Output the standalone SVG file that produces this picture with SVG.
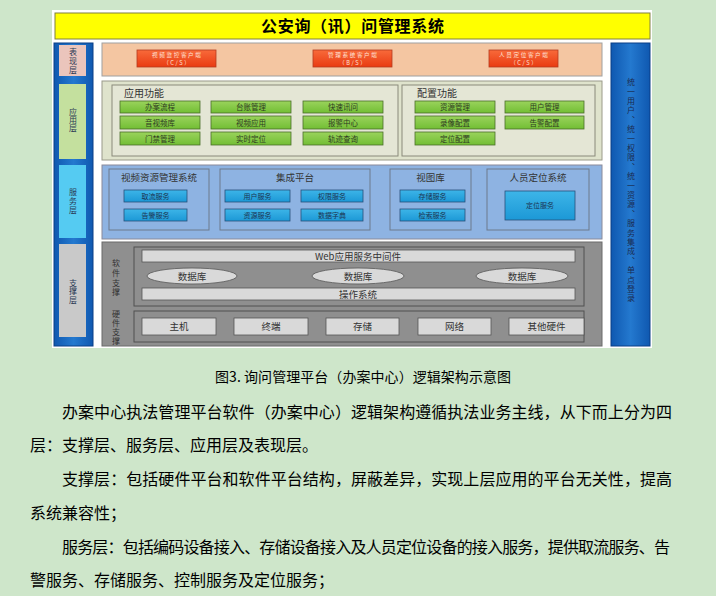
<svg xmlns="http://www.w3.org/2000/svg" width="716" height="596" viewBox="0 0 716 596">
<defs>
<linearGradient id="gBlue" x1="0" y1="0" x2="1" y2="0"><stop offset="0" stop-color="#0F58B0"/><stop offset="0.5" stop-color="#2479CF"/><stop offset="1" stop-color="#0F58B0"/></linearGradient>
<linearGradient id="gRed" x1="0" y1="0" x2="0" y2="1"><stop offset="0" stop-color="#F86A3A"/><stop offset="1" stop-color="#E93B12"/></linearGradient>
<linearGradient id="gGreen" x1="0" y1="0" x2="0" y2="1"><stop offset="0" stop-color="#9AD35C"/><stop offset="1" stop-color="#72BE34"/></linearGradient>
<linearGradient id="gCyan" x1="0" y1="0" x2="0" y2="1"><stop offset="0" stop-color="#3DB5E8"/><stop offset="1" stop-color="#1C98D6"/></linearGradient>
</defs>
<style>
text{font-family:"Noto Sans CJK SC","Liberation Sans",sans-serif}
.vt{font-size:8px;fill:#2B3A55;writing-mode:vertical-rl;text-anchor:middle}
.red{fill:url(#gRed);stroke:#B43A1E;stroke-width:0.8}
.redt{font-size:5.6px;fill:#FFE3D6;text-anchor:middle;letter-spacing:1.6px}
.grn{fill:url(#gGreen);stroke:#4A6E2A;stroke-width:0.8}
.grnt{font-size:7.5px;fill:#2F3B22;text-anchor:middle}
.cyn{fill:url(#gCyan);stroke:#28507A;stroke-width:0.8}
.cynt{font-size:7px;fill:#1C3552;text-anchor:middle}
.sub{font-size:9.5px;fill:#333;text-anchor:middle}
.hw{fill:#D9D9D9;stroke:#555;stroke-width:0.8}
.hwt{font-size:9.5px;fill:#333;text-anchor:middle}
.para{font-size:16px;fill:#000}
</style>
<rect x="0" y="0" width="716" height="596" fill="#CEE6CA"/>
<rect x="52" y="10" width="600" height="338" fill="#FFFFFF"/>

<g id="title">
<rect x="55" y="13" width="595" height="26" fill="#FFFF00" stroke="#808040" stroke-width="1"/>
<text x="352.5" y="31.5" font-size="16" font-weight="bold" text-anchor="middle" textLength="183" fill="#000">公安询（讯）问管理系统</text>
</g>

<g id="left-column">
<rect x="54" y="43" width="39" height="303" fill="url(#gBlue)" stroke="#0B3F86" stroke-width="1"/>
<rect x="59" y="45" width="27" height="31" fill="#EBC5BC"/>
<rect x="59" y="84" width="27" height="75" fill="#C4E09E"/>
<rect x="59" y="165" width="27" height="73" fill="#55CBF2"/>
<rect x="59" y="244" width="27" height="93" fill="#C9C9C9"/>
<text class="vt" x="73" y="61.5" letter-spacing="1">表现层</text>
<text class="vt" x="73" y="120">应用层</text>
<text class="vt" x="73" y="201.5" letter-spacing="1">服务层</text>
<text class="vt" x="73" y="291.5" letter-spacing="0.5">支撑层</text>
</g>

<g id="right-column">
<rect x="611" y="43" width="39" height="303" fill="url(#gBlue)" stroke="#0B3F86" stroke-width="1"/>
<text class="vt" x="631" y="191" letter-spacing="1.4" style="fill:#1A2A50">统一用户、统一权限、统一资源、服务集成、单点登录</text>
</g>

<g id="presentation-layer">
<rect x="102" y="43" width="500" height="33" fill="#F4C6A2" stroke="#A0A0A0" stroke-width="1"/>
<rect class="red" x="137" y="50" width="79" height="17"/>
<text class="redt" x="177.3" y="57">视频监控客户端</text>
<text class="redt" x="177.3" y="65">（C/S）</text>
<rect class="red" x="313" y="50" width="79" height="17"/>
<text class="redt" x="353.3" y="57">管理系统客户端</text>
<text class="redt" x="353.3" y="65">（B/S）</text>
<rect class="red" x="489" y="50" width="69" height="17"/>
<text class="redt" x="524.3" y="57">人员定位客户端</text>
<text class="redt" x="524.3" y="65">（C/S）</text>
</g>

<g id="application-layer">
<rect x="102" y="81" width="500" height="79" fill="#DFE3CC" stroke="#9A9A8A" stroke-width="1"/>
<rect x="112" y="85" width="286" height="71" fill="#E4E6D5" stroke="#8A8A7A" stroke-width="1"/>
<rect x="402" y="85" width="193" height="71" fill="#E4E6D5" stroke="#8A8A7A" stroke-width="1"/>
<text x="124" y="97" font-size="10" fill="#333">应用功能</text>
<text x="417" y="97" font-size="10" fill="#333">配置功能</text>
<rect class="grn" x="120" y="101" width="80" height="12"/><text class="grnt" x="160" y="110">办案流程</text>
<rect class="grn" x="120" y="116" width="80" height="13"/><text class="grnt" x="160" y="125.5">音视频库</text>
<rect class="grn" x="120" y="132" width="80" height="13"/><text class="grnt" x="160" y="141.5">门禁管理</text>
<rect class="grn" x="211" y="101" width="80" height="12"/><text class="grnt" x="251" y="110">台账管理</text>
<rect class="grn" x="211" y="116" width="80" height="13"/><text class="grnt" x="251" y="125.5">视频应用</text>
<rect class="grn" x="211" y="132" width="80" height="13"/><text class="grnt" x="251" y="141.5">实时定位</text>
<rect class="grn" x="303" y="101" width="80" height="12"/><text class="grnt" x="343" y="110">快速讯问</text>
<rect class="grn" x="303" y="116" width="80" height="13"/><text class="grnt" x="343" y="125.5">报警中心</text>
<rect class="grn" x="303" y="132" width="80" height="13"/><text class="grnt" x="343" y="141.5">轨迹查询</text>
<rect class="grn" x="415" y="101" width="80" height="12"/><text class="grnt" x="455" y="110">资源管理</text>
<rect class="grn" x="415" y="116" width="80" height="13"/><text class="grnt" x="455" y="125.5">录像配置</text>
<rect class="grn" x="415" y="132" width="80" height="13"/><text class="grnt" x="455" y="141.5">定位配置</text>
<rect class="grn" x="505" y="101" width="79" height="12"/><text class="grnt" x="544.5" y="110">用户管理</text>
<rect class="grn" x="505" y="116" width="79" height="13"/><text class="grnt" x="544.5" y="125.5">告警配置</text>
</g>

<g id="service-layer">
<rect x="102" y="165" width="500" height="74" fill="#8EB3E2" stroke="#8A8A9A" stroke-width="1"/>
<rect x="109" y="169" width="100" height="61" fill="#8EB3E2" stroke="#6C7A8C" stroke-width="1"/>
<rect x="220" y="169" width="150" height="61" fill="#8EB3E2" stroke="#6C7A8C" stroke-width="1"/>
<rect x="390" y="169" width="81" height="61" fill="#8EB3E2" stroke="#6C7A8C" stroke-width="1"/>
<rect x="487" y="169" width="102" height="61" fill="#8EB3E2" stroke="#6C7A8C" stroke-width="1"/>
<text class="sub" x="159" y="181" font-size="9.5">视频资源管理系统</text>
<text class="sub" x="295" y="181">集成平台</text>
<text class="sub" x="430.5" y="181">视图库</text>
<text class="sub" x="538" y="181">人员定位系统</text>
<rect class="cyn" x="124" y="190" width="63" height="12"/><text class="cynt" x="155.5" y="198.5">取流服务</text>
<rect class="cyn" x="124" y="209" width="63" height="12"/><text class="cynt" x="155.5" y="217.5">告警服务</text>
<rect class="cyn" x="225" y="190" width="65" height="12"/><text class="cynt" x="257.5" y="198.5">用户服务</text>
<rect class="cyn" x="225" y="209" width="65" height="12"/><text class="cynt" x="257.5" y="217.5">资源服务</text>
<rect class="cyn" x="301" y="190" width="62" height="12"/><text class="cynt" x="332" y="198.5">权限服务</text>
<rect class="cyn" x="301" y="209" width="62" height="12"/><text class="cynt" x="332" y="217.5">数据字典</text>
<rect class="cyn" x="400" y="190" width="65" height="12"/><text class="cynt" x="432.5" y="198.5">存储服务</text>
<rect class="cyn" x="400" y="209" width="65" height="12"/><text class="cynt" x="432.5" y="217.5">检索服务</text>
<rect class="cyn" x="505" y="191" width="70" height="29"/><text class="cynt" x="540" y="208">定位服务</text>
</g>

<g id="support-layer">
<rect x="102" y="242" width="500" height="104" fill="#8F8F8F" stroke="#6A6A6A" stroke-width="1"/>
<rect x="134" y="247" width="450" height="59" fill="#8F8F8F" stroke="#505050" stroke-width="1"/>
<rect x="134" y="311" width="450" height="31" fill="#8F8F8F" stroke="#505050" stroke-width="1"/>
<text class="vt" x="116" y="278.5" font-size="8.5" letter-spacing="1.8" style="fill:#333">软件支撑</text>
<text class="vt" x="116" y="327.5" letter-spacing="1" style="fill:#333">硬件支撑</text>
<rect class="hw" x="142" y="250" width="433" height="12"/>
<text class="hwt" x="358" y="259.5" font-size="8.5">Web应用服务中间件</text>
<ellipse class="hw" cx="192" cy="276" rx="45" ry="8"/><text class="hwt" x="192" y="279.5">数据库</text>
<ellipse class="hw" cx="358" cy="276" rx="46" ry="8"/><text class="hwt" x="358" y="279.5">数据库</text>
<ellipse class="hw" cx="522" cy="276" rx="46" ry="8"/><text class="hwt" x="522" y="279.5">数据库</text>
<rect class="hw" x="142" y="288" width="433" height="12"/>
<text class="hwt" x="358" y="297.5">操作系统</text>
<rect class="hw" x="142" y="318" width="74" height="17"/><text class="hwt" x="179" y="330">主机</text>
<rect class="hw" x="234" y="318" width="74" height="17"/><text class="hwt" x="271" y="330">终端</text>
<rect class="hw" x="326" y="318" width="73" height="17"/><text class="hwt" x="362.5" y="330">存储</text>
<rect class="hw" x="418" y="318" width="73" height="17"/><text class="hwt" x="454.5" y="330">网络</text>
<rect class="hw" x="509" y="318" width="75" height="17"/><text class="hwt" x="546.5" y="330">其他硬件</text>
</g>

<g id="connectors"/>

<g id="caption">
<text x="215" y="382" font-size="14" textLength="296" fill="#000">图3. 询问管理平台（办案中心）逻辑架构示意图</text>
</g>
<g id="body-text">
<text class="para" x="62" y="418" textLength="610">办案中心执法管理平台软件（办案中心）逻辑架构遵循执法业务主线，从下而上分为四</text>
<text class="para" x="30" y="451">层：支撑层、服务层、应用层及表现层。</text>
<text class="para" x="62" y="485" textLength="610">支撑层：包括硬件平台和软件平台结构，屏蔽差异，实现上层应用的平台无关性，提高</text>
<text class="para" x="30" y="519">系统兼容性；</text>
<text class="para" x="62" y="553" textLength="608">服务层：包括编码设备接入、存储设备接入及人员定位设备的接入服务，提供取流服务、告</text>
<text class="para" x="30" y="586">警服务、存储服务、控制服务及定位服务；</text>
</g>
</svg>
